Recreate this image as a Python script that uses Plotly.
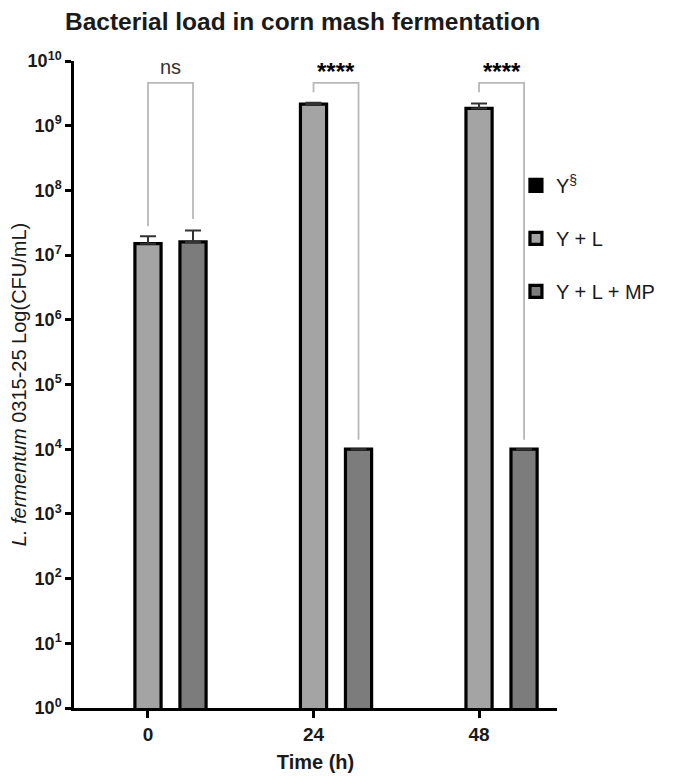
import plotly.graph_objects as go

# ---- data ----
times = ["0", "24", "48"]
xpos = [0, 1, 2]
groups = ["Y<sup>§</sup>", "Y + L", "Y + L + MP"]
y_s = [None, None, None]               # Y§ : no detectable L. fermentum
y_l = [1.5e7, 2.15e9, 1.85e9]          # Y + L
y_l_err = [0.45e7, 0.12e9, 0.35e9]
y_lmp = [1.6e7, 1.0e4, 1.0e4]          # Y + L + MP
y_lmp_err = [0.8e7, 0, 0]
sig_labels = ["ns", "<b>****</b>", "<b>****</b>"]
sig_label_log = [9.91, 9.84, 9.84]
bracket_top = [4.6e9, 4.6e9, 4.6e9]
bracket_left_end = [2.8e7, 3.3e9, 3.3e9]
bracket_right_end = [3.6e7, 1.4e4, 1.4e4]
ytick_vals = [10 ** k for k in range(0, 11)]
ytick_text = ["10<sup>%d</sup>" % k for k in range(0, 11)]

# ---- layout parameters ----
slot = 0.272
bw = 0.158
outline = dict(color="black", width=3.2)

fig = go.Figure()
fills = ["black", "#a4a4a4", "#7c7c7c"]
vals = [y_s, y_l, y_lmp]
errs = [None, y_l_err, y_lmp_err]
for i, (name, v, e, c) in enumerate(zip(groups, vals, errs, fills)):
    kw = {}
    if e is not None:
        kw["error_y"] = dict(type="data", array=e, symmetric=False,
                             arrayminus=[0, 0, 0], color="#333333",
                             thickness=2, width=8)
    fig.add_trace(go.Bar(
        x=xpos, y=v, name=name, width=bw, offset=(i - 1) * slot - bw / 2,
        marker=dict(color=c, line=outline), legendgroup=name, **kw))

# significance brackets
for i in range(3):
    xl = xpos[i]
    xr = xpos[i] + slot
    fig.add_trace(go.Scatter(
        x=[xl, xl, xr, xr],
        y=[bracket_left_end[i], bracket_top[i], bracket_top[i], bracket_right_end[i]],
        mode="lines", line=dict(color="#b8b8b8", width=1.8),
        showlegend=False, hoverinfo="skip"))
    fig.add_annotation(x=(xl + xr) / 2, y=sig_label_log[i], text=sig_labels[i],
                       showarrow=False, yanchor="middle",
                       font=dict(size=20 if i == 0 else 24,
                                 color="#333" if i == 0 else "black"))

fig.update_layout(
    width=685, height=776,
    margin=dict(l=66, r=136, t=53, b=76),
    paper_bgcolor="white", plot_bgcolor="white",
    barmode="overlay",
    font=dict(family="Liberation Sans, Arial, sans-serif", color="black"),
    title=dict(text="<b>Bacterial load in corn mash fermentation</b>",
               x=0.43, xanchor="center", y=0.983, yanchor="middle",
               font=dict(size=24.5, color="#1a1a1a")),
    showlegend=True,
    legend=dict(x=0.915, y=0.838, xanchor="left", yanchor="top",
                bgcolor="rgba(0,0,0,0)",
                font=dict(size=20, color="#1a1a1a"),
                tracegroupgap=24, itemwidth=30, traceorder="grouped"),
)
fig.update_xaxes(
    range=[-0.447, 2.471], tickvals=xpos, ticktext=["<b>%s</b>" % t for t in times],
    showline=True, linecolor="black", linewidth=2.5, ticks="outside",
    tickcolor="black", tickwidth=2.5, ticklen=7, showgrid=False, zeroline=False,
    tickfont=dict(size=19, color="#1a1a1a"),
    title=dict(text="<b>Time (h)</b>", font=dict(size=20, color="#1a1a1a"), standoff=12),
)
fig.update_yaxes(
    type="log", range=[0, 10], tickvals=ytick_vals,
    ticktext=["<b>%s</b>" % t for t in ytick_text],
    showline=True, linecolor="black", linewidth=2.5, ticks="outside",
    tickcolor="black", tickwidth=2.5, ticklen=6, showgrid=False, zeroline=False,
    tickfont=dict(size=18, color="#1a1a1a"), automargin=False,
    title=dict(text="<i>L. fermentum</i> 0315-25 Log(CFU/mL)",
               font=dict(size=20, color="#1a1a1a"), standoff=0),
)
fig.write_html("out.html")
